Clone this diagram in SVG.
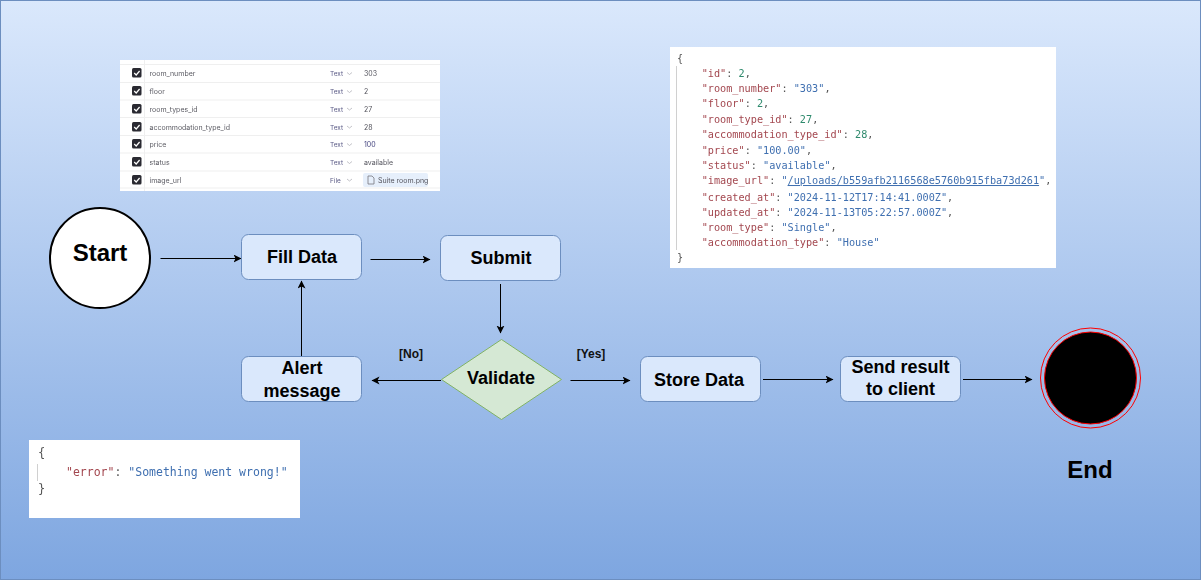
<svg xmlns="http://www.w3.org/2000/svg" width="1201" height="580" viewBox="0 0 1201 580">
<style>
.n{fill:#dae8fc;stroke:#6c8ebf;stroke-width:1}
.l{font-family:"Liberation Sans",Arial,sans-serif;font-weight:700;font-size:18px;fill:#000;text-anchor:middle}
.g{font-family:"Liberation Sans",Arial,sans-serif;font-weight:700;font-size:12px;fill:#111;text-anchor:middle}
.c{fill:none;stroke:#000;stroke-width:1;marker-end:url(#a)}
.j{font-family:"DejaVu Sans Mono","Liberation Mono",monospace;font-size:10.200px;fill:#555}
.k{fill:#a3474f}.s{fill:#3f6fb0}.d{fill:#2f8a6d}
.f{font-family:Inter,"Liberation Sans",sans-serif;font-size:7px;fill:#5c5c64}
.t{font-family:Inter,"Liberation Sans",sans-serif;font-size:6.500px;fill:#5a5a85}
.v{font-family:Inter,"Liberation Sans",sans-serif;font-size:7px;fill:#55555e}
.r{stroke:#efefef;stroke-width:1}
.h{fill:none;stroke:#9a9aa5;stroke-width:.6}
</style>
<defs>
<linearGradient id="bg" x1="0" y1="0" x2="0" y2="1"><stop offset="0" stop-color="#dae8fc"/><stop offset="1" stop-color="#7ea6e0"/></linearGradient>
<marker id="a" markerUnits="userSpaceOnUse" markerWidth="10" markerHeight="10" refX="7.500" refY="4" orient="auto"><path d="M0 0L8 4L0 8L2 4Z" fill="#000"/></marker>
<filter id="b" x="-2%" y="-2%" width="104%" height="104%"><feGaussianBlur stdDeviation="0.45"/></filter>
<filter id="b2" x="-2%" y="-2%" width="104%" height="104%"><feGaussianBlur stdDeviation="0.2"/></filter>
<g id="cb"><rect width="9.500" height="9.500" rx="1.500" fill="#2b2b30"/><path d="M2.200 5L4.200 7L7.600 3" fill="none" stroke="#fff" stroke-width="1.200"/></g>
</defs>
<rect id="background" x="0.500" y="0.500" width="1200" height="579" fill="url(#bg)" stroke="#6c8ebf"/>

<g id="form-screenshot">
<rect x="120" y="60" width="320" height="131" fill="#fff"/>
<g filter="url(#b)">
<path class="r" d="M120 64.500H440M120 82.500H440M120 100H440M120 117.500H440M120 135.500H440M120 153H440M120 171H440M120 188H440M144.500 60V191"/>
<use href="#cb" x="132" y="68"/><use href="#cb" x="132" y="86"/><use href="#cb" x="132" y="104"/><use href="#cb" x="132" y="122"/><use href="#cb" x="132" y="139"/><use href="#cb" x="132" y="157"/><use href="#cb" x="132" y="175"/>
<text class="f" x="149.500" y="76">room_number</text><text class="f" x="149.500" y="93.500">floor</text><text class="f" x="149.500" y="111.500">room_types_id</text><text class="f" x="149.500" y="129.500">accommodation_type_id</text><text class="f" x="149.500" y="147">price</text><text class="f" x="149.500" y="165">status</text><text class="f" x="149.500" y="183">image_url</text>
<text class="t" x="330" y="76">Text</text><text class="t" x="330" y="93.500">Text</text><text class="t" x="330" y="111.500">Text</text><text class="t" x="330" y="129.500">Text</text><text class="t" x="330" y="147">Text</text><text class="t" x="330" y="165">Text</text><text class="t" x="330" y="183">File</text>
<path class="h" d="M347 72.500l2.500 2l2.500-2M347 90.500l2.500 2l2.500-2M347 108l2.500 2l2.500-2M347 126l2.500 2l2.500-2M347 143.500l2.500 2l2.500-2M347 161.500l2.500 2l2.500-2M347 179l2.500 2l2.500-2"/>
<text class="v" x="364" y="76">303</text><text class="v" x="364" y="93.500">2</text><text class="v" x="364" y="111.500">27</text><text class="v" x="364" y="129.500">28</text><text class="v" x="364" y="147" style="fill:#44447f">100</text><text class="v" x="364" y="165">available</text>
<rect x="363" y="173" width="65" height="14" rx="2" fill="#e6effb"/>
<path d="M368 176h4l2 2v6h-6Z" fill="none" stroke="#77777f" stroke-width=".8"/>
<text class="v" x="378" y="183">Suite room.png</text>
</g>
</g>

<g id="json-response">
<rect x="670" y="47" width="386" height="221" fill="#fff"/>
<g filter="url(#b2)">
<path d="M676.500 66V250" stroke="#d0d0d0" fill="none"/>
<text class="j" y="62" x="677">{</text>
<text class="j" y="77" x="701.700"><tspan class="k">"id"</tspan>: <tspan class="d">2</tspan>,</text>
<text class="j" y="92" x="701.700"><tspan class="k">"room_number"</tspan>: <tspan class="s">"303"</tspan>,</text>
<text class="j" y="107" x="701.700"><tspan class="k">"floor"</tspan>: <tspan class="d">2</tspan>,</text>
<text class="j" y="123" x="701.700"><tspan class="k">"room_type_id"</tspan>: <tspan class="d">27</tspan>,</text>
<text class="j" y="138" x="701.700"><tspan class="k">"accommodation_type_id"</tspan>: <tspan class="d">28</tspan>,</text>
<text class="j" y="154" x="701.700"><tspan class="k">"price"</tspan>: <tspan class="s">"100.00"</tspan>,</text>
<text class="j" y="169" x="701.700"><tspan class="k">"status"</tspan>: <tspan class="s">"available"</tspan>,</text>
<text class="j" y="184" x="701.700"><tspan class="k">"image_url"</tspan>: <tspan class="s">"<tspan text-decoration="underline">/uploads/b559afb2116568e5760b915fba73d261</tspan>"</tspan>,</text>
<text class="j" y="201" x="701.700"><tspan class="k">"created_at"</tspan>: <tspan class="s">"2024-11-12T17:14:41.000Z"</tspan>,</text>
<text class="j" y="216" x="701.700"><tspan class="k">"updated_at"</tspan>: <tspan class="s">"2024-11-13T05:22:57.000Z"</tspan>,</text>
<text class="j" y="231" x="701.700"><tspan class="k">"room_type"</tspan>: <tspan class="s">"Single"</tspan>,</text>
<text class="j" y="246" x="701.700"><tspan class="k">"accommodation_type"</tspan>: <tspan class="s">"House"</tspan></text>
<text class="j" y="261" x="677">}</text>
</g>
</g>

<g id="error-json">
<rect x="29" y="440" width="271" height="78" fill="#fff"/>
<g filter="url(#b2)">
<path d="M37.500 464V481" stroke="#d0d0d0" fill="none"/>
<text class="j" y="457" x="38" style="font-size:12px">{</text>
<text class="j" y="475.500" x="66" style="font-size:11.500px"><tspan class="k">"error"</tspan>: <tspan class="s">"Something went wrong!"</tspan></text>
<text class="j" y="493" x="38" style="font-size:12px">}</text>
</g>
</g>

<g id="connectors">
<path class="c" d="M160.500 258.500H241"/>
<path class="c" d="M370.500 259.500H430"/>
<path class="c" d="M500.500 284V333"/>
<path class="c" d="M301.500 356V281"/>
<path class="c" d="M441 380.500H372"/>
<path class="c" d="M570.500 380.500H630"/>
<path class="c" d="M763 379.500H833"/>
<path class="c" d="M963 379.500H1032"/>
</g>
<g id="label-no"><text class="g" x="411" y="358">[No]</text></g>
<g id="label-yes"><text class="g" x="591" y="358">[Yes]</text></g>

<g id="start"><circle cx="100" cy="258" r="50" fill="#fff" stroke="#000" stroke-width="2"/><text class="l" x="100" y="261" style="font-size:24px">Start</text></g>
<g id="fill-data"><rect class="n" x="241.500" y="234.500" width="120" height="45" rx="7"/><text class="l" x="302" y="263">Fill Data</text></g>
<g id="submit"><rect class="n" x="440.500" y="235.500" width="120" height="45" rx="7"/><text class="l" x="501" y="264">Submit</text></g>
<g id="alert-message"><rect class="n" x="241.500" y="356.500" width="120" height="45" rx="7"/><text class="l" x="302" y="374">Alert</text><text class="l" x="302" y="396.500">message</text></g>
<g id="validate"><path d="M501.500 339.500L561.500 379.500L501.500 419.500L441.500 379.500Z" fill="#d5e8d4" stroke="#82b366"/><text class="l" x="501" y="384">Validate</text></g>
<g id="store-data"><rect class="n" x="640.500" y="356.500" width="120" height="45" rx="7"/><text class="l" x="699" y="386">Store Data</text></g>
<g id="send-result"><rect class="n" x="840.500" y="356.500" width="120" height="45" rx="7"/><text class="l" x="900.500" y="373">Send result</text><text class="l" x="900.500" y="395">to client</text></g>
<g id="end"><circle cx="1090.500" cy="378" r="50" fill="none" stroke="#f00"/><circle cx="1090.500" cy="378" r="46" fill="#000" stroke="#f00"/><text class="l" x="1090" y="478" style="font-size:24px">End</text></g>
</svg>
